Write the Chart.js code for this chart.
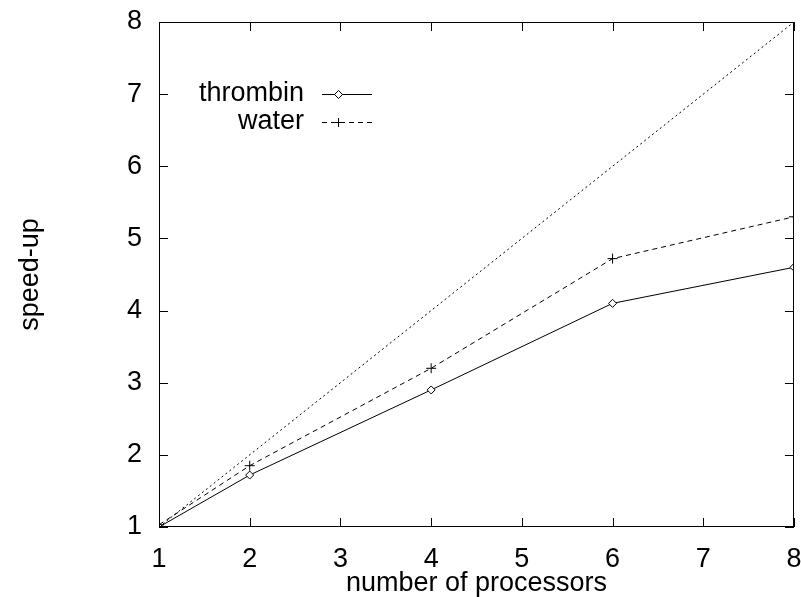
<!DOCTYPE html>
<html>
<head>
<title>speed-up</title>
<script src="https://cdn.jsdelivr.net/npm/chart.js@4.4.0/dist/chart.umd.min.js"></script>
<style>
  html, body { margin: 0; padding: 0; background: #fff; }
  #wrap { width: 801px; height: 597px; }
</style>
</head>
<body>
<div id="wrap"><canvas id="c" width="801" height="597"></canvas></div>
<script>
// values
const procs = [1, 2, 4, 6, 8];
const thrombin = [1.0, 1.72, 2.9, 4.1, 4.6];
const water = [1.03, 1.85, 3.2, 4.72, 5.3];
const idealX = [1, 8];
const idealY = [1, 8];
const xTicks = [1, 2, 3, 4, 5, 6, 7, 8];
const yTicks = [1, 2, 3, 4, 5, 6, 7, 8];

const FONT = 'Liberation Sans, Arial, sans-serif';
const FS = 27;
const toXY = (xs, ys) => xs.map((x, i) => ({x: x, y: ys[i]}));

// frame, inward ticks on all four sides, and the legend
const gnuplotLook = {
  id: 'gnuplotLook',
  afterDatasetsDraw(chart) {
    const ctx = chart.ctx;
    const a = chart.chartArea;
    const xs = chart.scales.x, ys = chart.scales.y;
    ctx.save();
    ctx.strokeStyle = '#000';
    ctx.lineWidth = 1;
    ctx.strokeRect(a.left + 0.5, a.top + 0.5, a.right - a.left - 1, a.bottom - a.top - 1);
    ctx.beginPath();
    xTicks.forEach(v => {
      const px = Math.round(xs.getPixelForValue(v)) + 0.5;
      ctx.moveTo(px, a.bottom); ctx.lineTo(px, a.bottom - 9);
      ctx.moveTo(px, a.top); ctx.lineTo(px, a.top + 9);
    });
    yTicks.forEach(v => {
      const py = Math.round(ys.getPixelForValue(v)) + 0.5;
      ctx.moveTo(a.left, py); ctx.lineTo(a.left + 9, py);
      ctx.moveTo(a.right, py); ctx.lineTo(a.right - 9, py);
    });
    ctx.stroke();

    // legend
    ctx.font = FS + 'px ' + FONT;
    ctx.fillStyle = '#000';
    ctx.textAlign = 'right';
    ctx.textBaseline = 'middle';
    const rows = [[0, 94], [1, 122]];
    rows.forEach(([i, y]) => {
      const ds = chart.data.datasets[i];
      ctx.fillText(ds.label, 304, y);
      ctx.beginPath();
      ctx.setLineDash(ds.borderDash || []);
      ctx.moveTo(322, y + 0.5); ctx.lineTo(372, y + 0.5);
      ctx.stroke();
      ctx.setLineDash([]);
      ctx.beginPath();
      if (ds.pointStyle === 'rectRot') {
        ctx.fillStyle = '#fff';
        ctx.moveTo(338.5, y - 3.5); ctx.lineTo(342.5, y + 0.5); ctx.lineTo(338.5, y + 4.5); ctx.lineTo(334.5, y + 0.5); ctx.closePath();
        ctx.fill(); ctx.stroke();
        ctx.fillStyle = '#000';
      } else {
        ctx.moveTo(338.5, y - 4); ctx.lineTo(338.5, y + 5);
        ctx.moveTo(334, y + 0.5); ctx.lineTo(343, y + 0.5);
        ctx.stroke();
      }
    });
    ctx.restore();
  }
};

new Chart(document.getElementById('c').getContext('2d'), {
  type: 'line',
  data: {
    datasets: [
      {
        label: 'thrombin',
        data: toXY(procs, thrombin),
        borderColor: '#000', borderWidth: 1,
        pointStyle: 'rectRot', pointRadius: 4,
        pointBackgroundColor: '#fff', pointBorderColor: '#000', pointBorderWidth: 1
      },
      {
        label: 'water',
        data: toXY(procs, water),
        borderColor: '#000', borderWidth: 1, borderDash: [5, 4],
        pointStyle: 'cross', pointRadius: 5,
        pointBorderColor: '#000', pointBorderWidth: 1
      },
      {
        label: 'ideal',
        data: toXY(idealX, idealY),
        borderColor: '#000', borderWidth: 1, borderDash: [2, 3],
        pointRadius: 0
      }
    ]
  },
  options: {
    responsive: false,
    animation: false,
    layout: { padding: { top: 22, right: 7, left: 0, bottom: 0 } },
    plugins: { legend: { display: false }, tooltip: { enabled: false } },
    scales: {
      x: {
        type: 'linear', min: 1, max: 8,
        afterFit: s => { s.height = 70; s.paddingLeft = 0; s.paddingRight = 0; },
        afterBuildTicks: s => { s.ticks = xTicks.map(v => ({value: v})); },
        grid: { display: false, drawTicks: false },
        border: { display: false },
        ticks: { color: '#000', padding: 16, font: { family: FONT, size: FS }, maxRotation: 0 },
        title: { display: true, text: 'number of processors', color: '#000',
                 font: { family: FONT, size: FS }, padding: { top: 0, bottom: -3 } }
      },
      y: {
        type: 'linear', min: 1, max: 8,
        afterFit: s => { s.width = 159; s.paddingTop = 0; s.paddingBottom = 0; },
        afterBuildTicks: s => { s.ticks = yTicks.map(v => ({value: v})); },
        grid: { display: false, drawTicks: false },
        border: { display: false },
        ticks: { color: '#000', padding: 17, font: { family: FONT, size: FS } },
        title: { display: true, text: 'speed-up', color: '#000',
                 font: { family: FONT, size: FS }, padding: { top: 14, bottom: 0 } }
      }
    }
  },
  plugins: [gnuplotLook]
});
</script>
</body>
</html>
